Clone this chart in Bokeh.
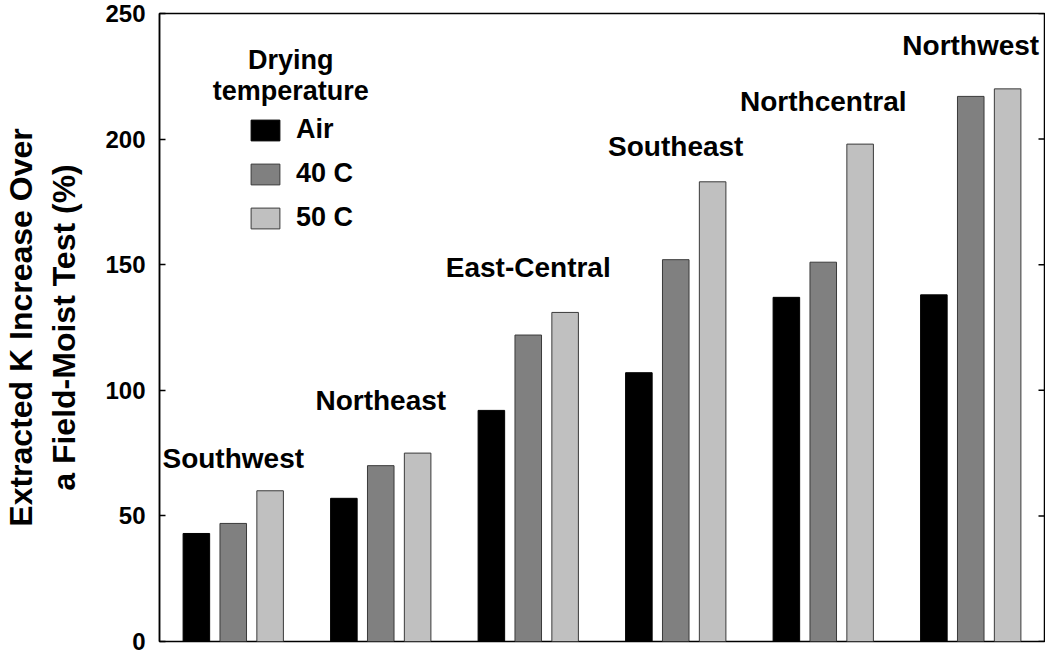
import math
from bokeh.plotting import figure
from bokeh.models import (FactorRange, Range1d, Legend, LegendItem,
                          Label, ColumnDataSource, FixedTicker)
from bokeh.transform import dodge
from bokeh.core.properties import value
from bokeh.embed import file_html
from bokeh.resources import INLINE

# ---- data ----
regions = ["Southwest", "Northeast", "East-Central", "Southeast", "Northcentral", "Northwest"]
air = [43, 57, 92, 107, 137, 138]
c40 = [47, 70, 122, 152, 151, 217]
c50 = [60, 75, 131, 183, 198, 220]
series_names = ["Air", "40 C", "50 C"]
legend_title = ["Drying", "temperature"]
y_ticks = [0, 50, 100, 150, 200, 250]
region_label_y = [73, 96, 149, 197, 215, 237.3]

FONT = "Liberation Sans"

src = ColumnDataSource(dict(region=regions, air=air, c40=c40, c50=c50, ly=region_label_y))

p = figure(width=1045, height=656, output_backend="svg", toolbar_location=None,
           x_range=FactorRange(*regions, range_padding=0), y_range=Range1d(0, 250),
           x_axis_location=None, min_border_left=149, min_border_right=1,
           min_border_top=13, min_border_bottom=15)
p.xgrid.visible = False
p.ygrid.visible = False
p.outline_line_color = "black"
p.outline_line_width = 1.5
p.background_fill_color = "white"

colors = ["black", "#808080", "#c0c0c0"]
lines = ["black", "#3a3a3a", "#3a3a3a"]
fields = ["air", "c40", "c50"]
offsets = [-0.25, 0.0, 0.25]
rs = []
for f, off, c, lc in zip(fields, offsets, colors, lines):
    r = p.vbar(x=dodge("region", off, range=p.x_range), top=f, width=0.18, source=src,
               fill_color=c, line_color=lc, line_width=1)
    rs.append(r)

p.text(x="region", y="ly", text="region", source=src, text_align="center",
       text_baseline="middle", text_font=value(FONT), text_font_style="bold",
       text_font_size="28px", text_color="black")

# inward tick marks on the right frame edge
p.ray(x=[len(regions)] * len(y_ticks), y=y_ticks, length=6, length_units="screen",
      angle=math.pi, line_color="black", line_width=1.5)

yax = p.yaxis[0]
yax.ticker = FixedTicker(ticks=y_ticks)
yax.major_tick_in = 6
yax.major_tick_out = 0
yax.minor_tick_line_color = None
yax.axis_line_width = 1.5
yax.axis_line_color = "black"
yax.major_tick_line_width = 1.5
yax.major_tick_line_color = "black"
yax.major_label_text_font = FONT
yax.major_label_text_font_style = "bold"
yax.major_label_text_font_size = "24px"
yax.major_label_text_color = "black"
yax.major_label_standoff = 14
yax.axis_label = "Extracted K Increase Over\na Field-Moist Test (%)"
yax.axis_label_text_font = FONT
yax.axis_label_text_font_style = "bold"
yax.axis_label_text_font_size = "32px"
yax.axis_label_text_color = "black"
yax.axis_label_standoff = 20

legend = Legend(items=[LegendItem(label=n, renderers=[r]) for n, r in zip(series_names, rs)],
                location=(88, 408), glyph_width=36, glyph_height=26, label_standoff=13,
                spacing=13, padding=0, margin=0, border_line_alpha=0,
                background_fill_alpha=0, label_text_font=FONT,
                label_text_font_style="bold", label_text_font_size="27px",
                label_text_color="black", label_height=26)
p.add_layout(legend)

for t, yy in zip(legend_title, [231.3, 219]):
    p.add_layout(Label(x=0.89, y=yy, text=t, text_align="center", text_baseline="middle",
                       text_font=FONT, text_font_style="bold", text_font_size="27px",
                       text_color="black"))

open("out.html", "w").write(file_html(p, INLINE))
